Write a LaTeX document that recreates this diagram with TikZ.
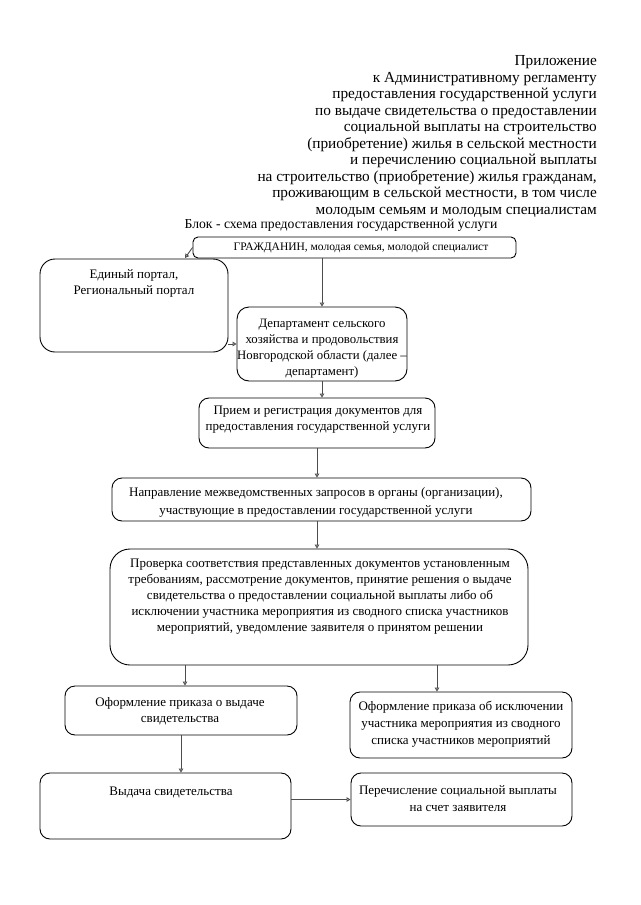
\documentclass[tikz,border=0pt]{standalone}
\usepackage{fontspec}
\setmainfont{Liberation Serif}
\usetikzlibrary{arrows.meta}
\begin{document}
\begin{tikzpicture}[x=1pt,y=-1pt,
  box/.style={draw=black, line width=0.9pt, rounded corners=10pt, inner sep=0pt},
  txt/.style={align=center, font=\fontsize{13}{16}\selectfont, inner sep=0pt},
  arr/.style={draw=black!70, line width=0.9pt, -{Triangle[open,length=4pt,width=4.5pt]}}]
\useasboundingbox (0,0) rectangle (640,905);
% header
\node[align=right, anchor=east, inner sep=0pt, font=\fontsize{15.3}{16.5}\selectfont] (hdr) at (597,136.5)
 {Приложение\\
  к Административному регламенту\\
  предоставления государственной услуги\\
  по выдаче свидетельства о предоставлении\\
  социальной выплаты на строительство\\
  (приобретение) жилья в сельской местности\\
  и перечислению социальной выплаты\\
  на строительство (приобретение) жилья гражданам,\\
  проживающим в сельской местности, в том числе\\
  молодым семьям и молодым специалистам};
\node[txt, font=\fontsize{13.7}{16}\selectfont] (ttl) at (341,225) {Блок - схема предоставления государственной услуги};
% boxes
\node[box, rounded corners=5pt, minimum width=323pt, minimum height=21pt] (g) at (354.5,247.5) {};
\node[box, rounded corners=15pt, minimum width=188pt, minimum height=93pt] (ep) at (134,305.5) {};
\node[box, rounded corners=12pt, minimum width=170pt, minimum height=74pt] (dep) at (322,344) {};
\node[box, minimum width=236pt, minimum height=50pt] (pr) at (317,423) {};
\node[box, minimum width=419pt, minimum height=43pt] (np) at (321.5,499.5) {};
\node[box, rounded corners=20pt, minimum width=418pt, minimum height=116pt] (pv) at (319,607) {};
\node[box, minimum width=232pt, minimum height=49pt] (o1) at (181,710.5) {};
\node[box, minimum width=222pt, minimum height=66pt] (o2) at (461,725) {};
\node[box, minimum width=251pt, minimum height=66pt] (vd) at (165.5,806) {};
\node[box, minimum width=221pt, minimum height=53pt] (pe) at (461.5,799.5) {};
% texts
\node[txt, font=\fontsize{11.5}{15}\selectfont] (tg) at (361,248) {ГРАЖДАНИН, молодая семья, молодой специалист};
\node[txt] (tep) at (134,283) {Единый портал,\\Региональный портал};
\node[txt, font=\fontsize{12.8}{16}\selectfont] (tdep) at (322,348.5) {Департамент сельского\\хозяйства и продовольствия\\Новгородской области (далее –\\департамент)};
\node[txt] (tpr) at (318,420) {Прием и регистрация документов для\\предоставления государственной услуги};
\node[txt, font=\fontsize{13}{18}\selectfont] (tnp) at (316,502) {Направление межведомственных запросов в органы (организации),\\участвующие в предоставлении государственной услуги};
\node[txt] (tpv) at (320,597) {Проверка соответствия представленных документов установленным\\требованиям, рассмотрение документов, принятие решения о выдаче\\свидетельства о предоставлении социальной выплаты либо об\\исключении участника мероприятия из сводного списка участников\\мероприятий, уведомление заявителя о принятом решении};
\node[txt] (to1) at (180,711) {Оформление приказа о выдаче\\свидетельства};
\node[txt, font=\fontsize{13}{17}\selectfont] (to2) at (461,724) {Оформление приказа об исключении\\участника мероприятия из сводного\\списка участников мероприятий};
\node[txt] (tvd) at (171,792) {Выдача свидетельства};
\node[txt, font=\fontsize{13}{17}\selectfont] (tpe) at (458,798.5) {Перечисление социальной выплаты\\на счет заявителя};
% connectors
\coordinate (ept) at (185,258);
\coordinate (a2) at ([xshift=-24pt]o2.north);
\coordinate (a1) at ([xshift=4pt]o1.north);
\draw[arr] (g.south -| dep.north) -- (dep.north);
\draw[arr] (g.west) -- (ept);
\draw[arr] (ep.east |- dep.center) -- (dep.west);
\draw[arr] (dep.south) -- (dep.south |- pr.north);
\draw[arr] (pr.south) -- (pr.south |- np.north);
\draw[arr] (np.south -| pr.south) -- (pv.north -| pr.south);
\draw[arr] (pv.south -| a1) -- (a1);
\draw[arr] (pv.south -| a2) -- (a2);
\draw[arr] (o1.south) -- (o1.south |- vd.north);
\draw[arr] (vd.east |- pe.west) -- (pe.west);
\end{tikzpicture}
\end{document}
